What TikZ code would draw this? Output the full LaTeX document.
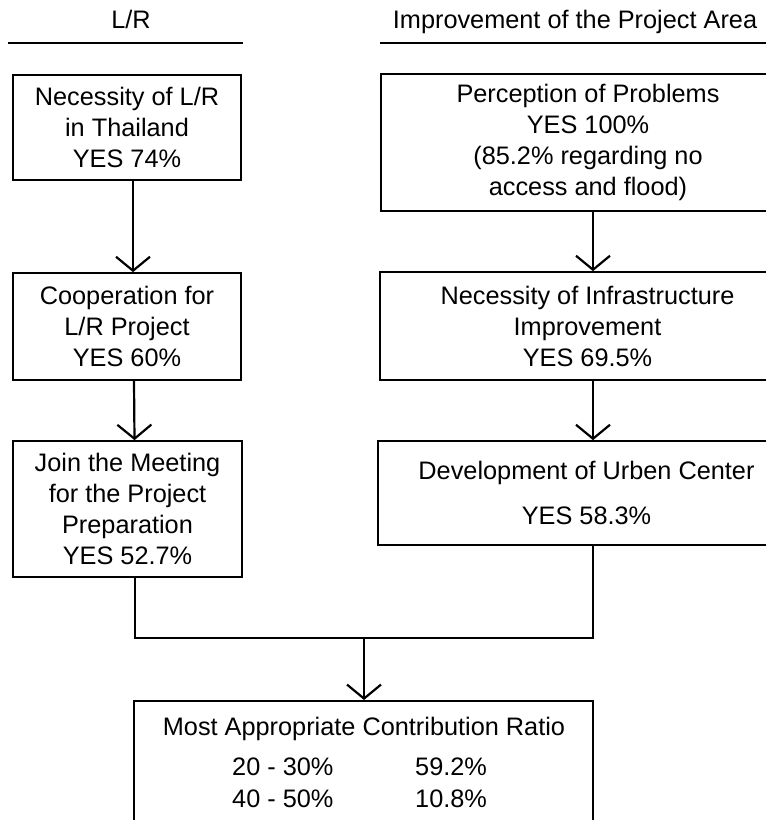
\documentclass[tikz,border=0pt]{standalone}
\usepackage{fontspec}
\setmainfont{Liberation Sans}
\usetikzlibrary{arrows.meta}
\begin{document}
\begin{tikzpicture}[x=1pt,y=-1pt,
  every node/.style={font=\fontsize{25.3}{31}\selectfont, inner sep=0pt},
  box/.style={draw, line width=1.7pt, align=center},
  wire/.style={line width=2.2pt},
  arr/.style={wire, -{Straight Barb[length=14pt,width=34pt]}},
  rule/.style={line width=1.5pt},
  txt/.style={anchor=base west}]
\useasboundingbox (0,0) rectangle (766,820);
\clip (0,0) rectangle (766,820);

% column headings
\node[anchor=base] (hL) at (131,28) {L/R};
\draw[rule] (8,43) -- (243,43);
\node[anchor=base] (hR) at (575,28) {Improvement of the Project Area};
\draw[rule] (380,43) -- (766,43);

% left column
\node[box, minimum width=228pt, minimum height=105pt] (L1) at (127,127.5)
  {Necessity of L/R\\in Thailand\\YES 74\%};
\node[box, minimum width=228pt, minimum height=107pt] (L2) at (127,326.5)
  {Cooperation for\\L/R Project\\YES 60\%};
\node[box, minimum width=229pt, minimum height=136pt] (L3) at (127.5,509)
  {Join the Meeting\\for the Project\\Preparation\\YES 52.7\%};

% right column
\node[box, minimum width=414pt, minimum height=137pt] (R1) at (588,142.5)
  {Perception of Problems\\YES 100\%\\(85.2\% regarding no\\access and flood)};
\node[box, minimum width=415pt, minimum height=108pt] (R2) at (587.5,326)
  {Necessity of Infrastructure\\Improvement\\YES 69.5\%};
\node[box, minimum width=417pt, minimum height=104pt] (R3) at (586.5,493)
  {Development of Urben Center\\[14pt]YES 58.3\%};

% result box
\node[box, minimum width=459pt, minimum height=180pt, anchor=north] (B) at (363.5,700) {};
\node[anchor=base] (Bt) at (364,735) {Most Appropriate Contribution Ratio};
\node[txt] (r1a) at (232,775) {20 - 30\%};
\node[txt] (r1b) at (415,775) {59.2\%};
\node[txt] (r2a) at (232,807) {40 - 50\%};
\node[txt] (r2b) at (415,807) {10.8\%};

% connectors
\draw[arr] ([xshift=6pt]L1.south) -- ([xshift=6pt]L2.north);
\draw[arr] ([xshift=7pt]L2.south) -- ([xshift=7pt]L3.north);
\draw[arr] ([xshift=5pt]R1.south) -- ([xshift=5.5pt]R2.north);
\draw[arr] ([xshift=5.5pt]R2.south) -- ([xshift=6.5pt]R3.north);
\coordinate (jn) at (364,638);
\draw[wire] ([xshift=7.5pt]L3.south) |- (jn) -| ([xshift=6.5pt]R3.south);
\draw[arr] (jn) -- (B.north -| jn);
\end{tikzpicture}
\end{document}
